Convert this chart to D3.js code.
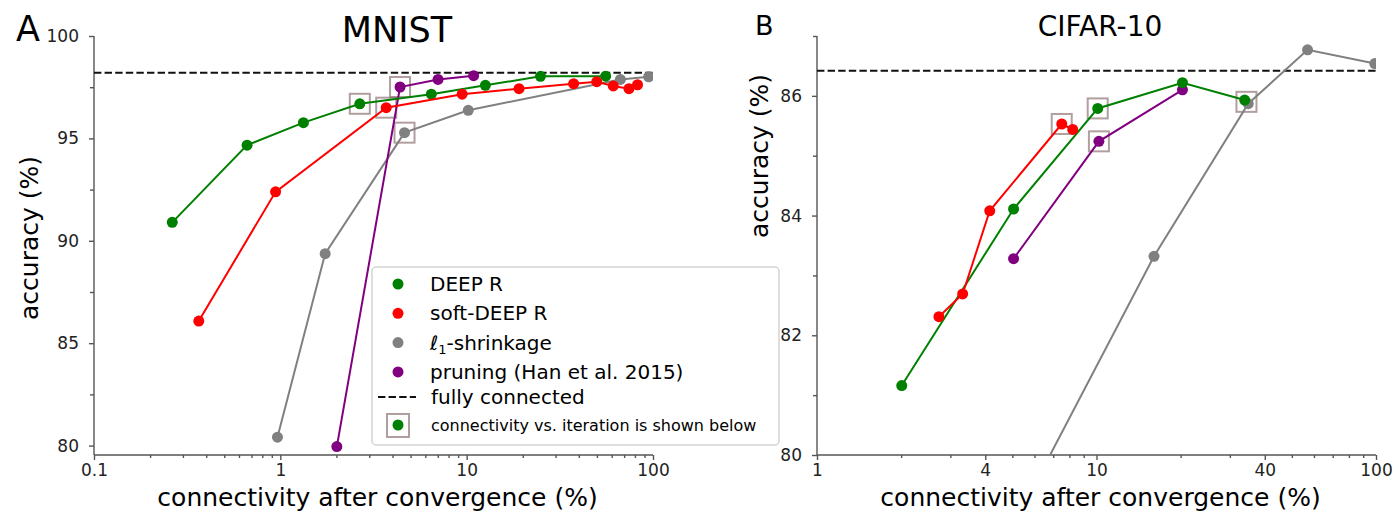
<!DOCTYPE html>
<meta charset="utf-8">
<html>
<head>
    <title>DEEP R connectivity vs accuracy</title>
    <style>
        body { margin: 0; background: #fff; }
        text { font-family: "DejaVu Sans", sans-serif; }
        .axis path, .axis line { stroke: #555; stroke-width: 1.4px; }
        .axis text { fill: #222; font-size: 17px; }
    </style>
</head>
<body>
<script src="https://d3js.org/d3.v7.min.js"></script>
<script>
    // MNIST values, [connectivity %, accuracy %]
    var mnistDeepR = [[0.263, 90.9], [0.663, 94.67], [1.33, 95.77], [2.67, 96.69], [6.46, 97.16], [12.6, 97.59], [24.9, 98.03], [55.7, 98.04]];
    var mnistSoft = [[0.365, 86.08], [0.943, 92.39], [3.70, 96.5], [9.46, 97.16], [19.1, 97.43], [37.5, 97.67], [49.9, 97.77], [61.2, 97.56], [74.3, 97.43], [82.6, 97.62]];
    var mnistL1 = [[0.965, 80.41], [1.74, 89.37], [4.64, 95.28], [10.2, 96.37], [66.8, 97.88], [94.8, 98.01]];
    var mnistPrune = [[2.01, 79.95], [4.39, 97.51], [7.02, 97.88], [10.9, 98.06]];
    var mnistFull = 98.2;
    var mnistBoxed = [[2.67, 96.69], [3.70, 96.5], [4.39, 97.51], [4.64, 95.28]];

    // CIFAR-10 values
    var cifarDeepR = [[2.01, 81.16], [5.05, 84.11], [10.1, 85.79], [20.3, 86.22], [33.9, 85.93]];
    var cifarSoft = [[2.73, 82.31], [3.32, 82.69], [4.15, 84.08], [7.51, 85.53], [8.22, 85.44]];
    var cifarL1 = [[4.4, 78.3], [16.06, 83.32], [34.9, 85.87], [56.9, 86.77], [99, 86.54]];
    var cifarPrune = [[5.05, 83.28], [10.2, 85.24], [20.3, 86.10]];
    var cifarFull = 86.42;
    var cifarBoxed = [[7.51, 85.53], [10.1, 85.79], [10.2, 85.24], [34.4, 85.9]];

    // ticks
    var mnistXTicks = [0.1, 1, 10, 100];
    var mnistXLabels = ["0.1", "1", "10", "100"];
    var mnistYTicks = [80, 85, 90, 95, 100];
    var mnistYMinor = [82.5, 87.5, 92.5, 97.5];
    var cifarXTicks = [1, 4, 10, 40, 100];
    var cifarXLabels = ["1", "4", "10", "40", "100"];
    var cifarYTicks = [80, 82, 84, 86];
    var cifarYMinor = [81, 83, 85, 87];

    var legendNames = ["DEEP R", "soft-DEEP R", "\u2113", "pruning (Han et al. 2015)"];
    var colors = { deep: "#008000", soft: "#ff0000", l1: "#808080", prune: "#800080" };

    var svg = d3.select("body").append("svg")
        .attr("width", 1394)
        .attr("height", 512);

    function logMinor(lo, hi, skip) {
        var out = [];
        for (var e = Math.log10(lo); e < Math.log10(hi); e++) {
            for (var k = 2; k <= 9; k++) {
                var v = k * Math.pow(10, e);
                if (skip.indexOf(+v.toPrecision(6)) < 0) out.push(v);
            }
        }
        return out;
    }

    function drawPanel(p) {
        var g = svg.append("g");
        var x = d3.scaleLog().domain(p.xDomain).range([p.x0, p.x1]);
        var y = d3.scaleLinear().domain(p.yDomain).range([p.yBot, p.yTop]);

        var clipId = "clip" + p.name;
        svg.append("clipPath").attr("id", clipId).append("rect")
            .attr("x", p.x0).attr("y", p.yTop - 6)
            .attr("width", p.x1 - p.x0).attr("height", p.yBot - p.yTop + 6);

        // axes
        g.append("g").attr("class", "axis")
            .attr("transform", "translate(0," + p.yBot + ")")
            .call(d3.axisBottom(x).tickValues(p.xMinor).tickSize(3).tickFormat(""))
            .select(".domain").remove();
        g.append("g").attr("class", "axis")
            .attr("transform", "translate(0," + p.yBot + ")")
            .call(d3.axisBottom(x).tickValues(p.xTicks).tickSize(5).tickPadding(4)
                .tickFormat(function (d, i) { return p.xLabels[i]; }).tickSizeOuter(0));
        g.append("g").attr("class", "axis")
            .attr("transform", "translate(" + p.x0 + ",0)")
            .call(d3.axisLeft(y).tickValues(p.yMinor).tickSize(4).tickFormat(""))
            .select(".domain").remove();
        g.append("g").attr("class", "axis")
            .attr("transform", "translate(" + p.x0 + ",0)")
            .call(d3.axisLeft(y).tickValues(p.yTicks).tickSize(5).tickPadding(10)
                .tickFormat(d3.format("d")).tickSizeOuter(0));
        g.selectAll(".axis .domain").attr("d", function () {
            var s = d3.select(this.parentNode).attr("transform");
            return s.indexOf("(0,") >= 0 ? "M" + p.x0 + ",0H" + p.x1 : "M0," + p.yTop + "V" + p.yBot;
        });

        // fully connected reference
        g.append("line")
            .attr("x1", p.x0).attr("x2", p.x1)
            .attr("y1", y(p.full)).attr("y2", y(p.full))
            .attr("stroke", "#111").attr("stroke-width", 2)
            .attr("stroke-dasharray", "7.4,3.2");

        var plot = g.append("g").attr("clip-path", "url(#" + clipId + ")");
        var line = d3.line().x(function (d) { return x(d[0]); }).y(function (d) { return y(d[1]); });

        p.boxed.forEach(function (d) {
            plot.append("rect")
                .attr("x", x(d[0]) - 10).attr("y", y(d[1]) - 10)
                .attr("width", 20).attr("height", 20)
                .attr("fill", "none").attr("stroke", "rgba(125,95,95,0.6)").attr("stroke-width", 2);
        });

        p.series.forEach(function (s) {
            plot.append("path").datum(s.data)
                .attr("d", line).attr("fill", "none")
                .attr("stroke", s.color).attr("stroke-width", 2);
            plot.selectAll(null).data(s.data).enter().append("circle")
                .attr("cx", function (d) { return x(d[0]); })
                .attr("cy", function (d) { return y(d[1]); })
                .attr("r", 5.5).attr("fill", s.color);
        });

        // labels
        g.append("text").attr("x", (p.x0 + p.x1) / 2 + 4).attr("y", 506)
            .attr("text-anchor", "middle").attr("font-size", 25).text("connectivity after convergence (%)");
        g.append("text").attr("transform", "translate(" + p.yLabelX + "," + p.yLabelY + ") rotate(-90)")
            .attr("text-anchor", "middle").attr("font-size", 25).text("accuracy (%)");
        g.append("text").attr("x", p.letterX).attr("y", p.letterY)
            .attr("font-size", p.letterSize).text(p.name);
        g.append("text").attr("x", p.titleX).attr("y", p.titleY)
            .attr("text-anchor", "middle").attr("font-size", p.titleSize).text(p.title);
        return g;
    }

    drawPanel({
        name: "A", title: "MNIST",
        x0: 94, x1: 653, yTop: 36, yBot: 455,
        xDomain: [0.1, 100], yDomain: [79.54, 100],
        xTicks: mnistXTicks, xLabels: mnistXLabels, xMinor: logMinor(0.1, 100, []),
        yTicks: mnistYTicks, yMinor: mnistYMinor,
        full: mnistFull, boxed: mnistBoxed,
        series: [
            { data: mnistL1, color: colors.l1 },
            { data: mnistPrune, color: colors.prune },
            { data: mnistDeepR, color: colors.deep },
            { data: mnistSoft, color: colors.soft }
        ],
        yLabelX: 38, yLabelY: 238,
        letterX: 16, letterY: 41, letterSize: 35,
        titleX: 397, titleY: 42, titleSize: 35
    });

    drawPanel({
        name: "B", title: "CIFAR-10",
        x0: 817, x1: 1376, yTop: 36, yBot: 455,
        xDomain: [1, 100], yDomain: [80, 87],
        xTicks: cifarXTicks, xLabels: cifarXLabels, xMinor: logMinor(1, 100, [4, 40]),
        yTicks: cifarYTicks, yMinor: cifarYMinor,
        full: cifarFull, boxed: cifarBoxed,
        series: [
            { data: cifarL1, color: colors.l1 },
            { data: cifarPrune, color: colors.prune },
            { data: cifarDeepR, color: colors.deep },
            { data: cifarSoft, color: colors.soft }
        ],
        yLabelX: 768, yLabelY: 156,
        letterX: 755, letterY: 35, letterSize: 27,
        titleX: 1100, titleY: 36, titleSize: 28
    });

    // legend (panel A)
    var leg = svg.append("g");
    leg.append("rect").attr("x", 372).attr("y", 267).attr("width", 407).attr("height", 178)
        .attr("rx", 4).attr("fill", "rgba(255,255,255,0.85)").attr("stroke", "#d4d4d4").attr("stroke-width", 1.5);
    var legColors = [colors.deep, colors.soft, colors.l1, colors.prune];
    legColors.forEach(function (c, i) {
        var yy = 284 + i * 29.3;
        leg.append("circle").attr("cx", 398).attr("cy", yy).attr("r", 5.5).attr("fill", c);
        var t = leg.append("text").attr("x", 430).attr("y", yy + 7).attr("font-size", 20).text(legendNames[i]);
        if (i === 2) {
            t.append("tspan").attr("font-size", 13).attr("dy", 4).text("1");
            t.append("tspan").attr("dy", -4).text("-shrinkage");
        }
    });
    leg.append("line").attr("x1", 378).attr("x2", 416).attr("y1", 397).attr("y2", 397)
        .attr("stroke", "#111").attr("stroke-width", 2).attr("stroke-dasharray", "7.4,3.2");
    leg.append("text").attr("x", 431).attr("y", 404).attr("font-size", 20).text("fully connected");
    leg.append("rect").attr("x", 387).attr("y", 414).attr("width", 22).attr("height", 23)
        .attr("fill", "none").attr("stroke", "rgba(125,95,95,0.6)").attr("stroke-width", 2);
    leg.append("circle").attr("cx", 398).attr("cy", 425).attr("r", 5.5).attr("fill", colors.deep);
    leg.append("text").attr("x", 431).attr("y", 431).attr("font-size", 16).text("connectivity vs. iteration is shown below");
</script>
</body>
</html>
